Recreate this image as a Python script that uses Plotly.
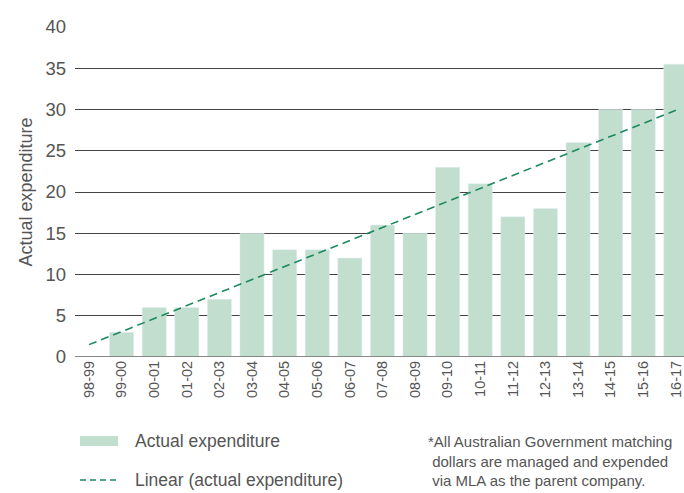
import plotly.graph_objects as go

categories = ["98-99", "99-00", "00-01", "01-02", "02-03", "03-04", "04-05", "05-06",
              "06-07", "07-08", "08-09", "09-10", "10-11", "11-12", "12-13", "13-14",
              "14-15", "15-16", "16-17"]
actual = [0, 3, 6, 6, 7, 15, 13, 13, 12, 16, 15, 23, 21, 17, 18, 26, 30, 30, 35.5]
trend_x = ["98-99", "16-17"]
trend_y = [1.5, 29.9]
y_ticks = [0, 5, 10, 15, 20, 25, 30, 35, 40]

BAR = "#c1dece"
LINE = "#1d8a5c"
TXT = "#555555"
FONT = "Liberation Sans"

fig = go.Figure()
fig.add_trace(go.Bar(x=categories, y=actual, marker_color=BAR, name="Actual expenditure",
                     showlegend=False))
fig.add_trace(go.Scatter(x=trend_x, y=trend_y, mode="lines",
                         line=dict(color=LINE, width=1.6, dash="8px,5px"),
                         name="Linear (actual expenditure)", showlegend=False))

fig.update_layout(
    width=684, height=493,
    margin=dict(l=75, r=0, t=27, b=136),
    plot_bgcolor="white", paper_bgcolor="white",
    bargap=0.26,
    font=dict(family=FONT, color=TXT),
    xaxis=dict(type="category", range=[-0.43, 18.25], tickangle=-90,
               tickfont=dict(size=14.5, color=TXT), showgrid=False, ticks="",
               showline=False, zeroline=False),
    yaxis=dict(range=[0, 40], tickvals=y_ticks, tickfont=dict(size=18.5, color=TXT),
               showgrid=True, gridcolor="#444444", gridwidth=1, zeroline=False,
               ticks="", ticklabelstandoff=8,
               title=dict(text="Actual expenditure", font=dict(size=18, color=TXT),
                          standoff=8)),
)

# baseline at zero
fig.add_shape(type="line", xref="paper", yref="y", x0=0, x1=1, y0=0, y1=0,
              line=dict(color="#888888", width=2))

# custom legend
fig.add_shape(type="rect", xref="paper", yref="paper",
              x0=(80 - 75) / 609, x1=(118 - 75) / 609,
              y0=(493 - 136 - 446) / 330, y1=(493 - 136 - 436) / 330,
              fillcolor=BAR, line=dict(width=0))
fig.add_shape(type="line", xref="paper", yref="paper",
              x0=(80 - 75) / 609, x1=(118 - 75) / 609,
              y0=(357 - 480) / 330, y1=(357 - 480) / 330,
              line=dict(color=LINE, width=1.6, dash="6px,4px"))
fig.add_annotation(xref="paper", yref="paper", x=(133 - 75) / 609, y=(357 - 441) / 330,
                   text="Actual expenditure", showarrow=False, xanchor="left",
                   yanchor="middle", font=dict(size=17.5, color=TXT))
fig.add_annotation(xref="paper", yref="paper", x=(133 - 75) / 609, y=(357 - 480) / 330,
                   text="Linear (actual expenditure)", showarrow=False, xanchor="left",
                   yanchor="middle", font=dict(size=17.5, color=TXT))
fig.add_annotation(xref="paper", yref="paper", x=(426 - 75) / 609, y=(357 - 461) / 330,
                   text="*All Australian Government matching<br> dollars are managed and expended<br> via MLA as the parent company.",
                   showarrow=False, xanchor="left", yanchor="middle", align="left",
                   font=dict(size=15, color=TXT))

fig.write_html("out.html")
